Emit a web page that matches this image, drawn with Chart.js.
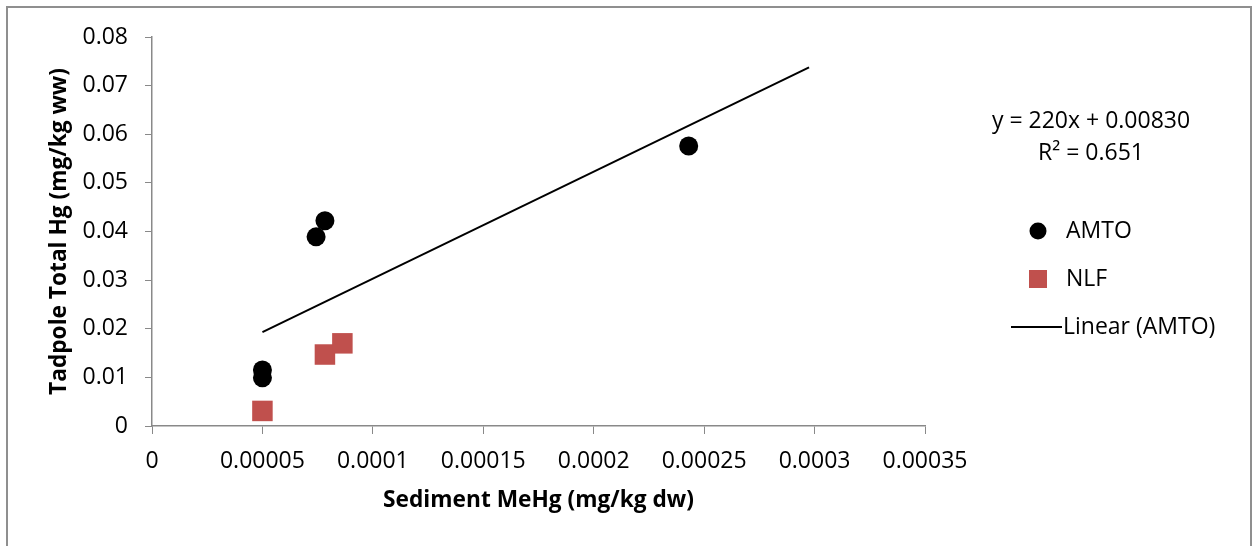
<!doctype html>
<html>

<head>
    <meta charset="utf-8" />
    <title>Tadpole Total Hg vs Sediment MeHg</title>

    <style>
        html,
        body {
            margin: 0px;
            padding: 0px;
            background-color: #ffffff;
            overflow: hidden;
        }

        .wrap {
            position: relative;
            width: 1252px;
            height: 546px;
        }

        .frame {
            position: absolute;
            left: 6px;
            top: 6px;
            width: 1242px;
            height: 600px;
            border: 2px solid #8f8f8f;
            pointer-events: none;
        }
    </style>
</head>

<body>

    <div class="wrap">
        <canvas id="chart_hg" width="1252" height="546"></canvas>
        <div class="frame"></div>
    </div>

    <script src="https://cdn.jsdelivr.net/npm/chart.js@4.4.1/dist/chart.umd.min.js"></script>

    <script>
        // sediment MeHg (x) and tadpole total Hg (y) per site
        const amtoX = [0.00005, 0.00005, 0.0000743, 0.0000783, 0.000243];
        const amtoY = [0.0115, 0.0099, 0.0389, 0.0422, 0.0576];
        const nlfX = [0.00005, 0.0000783, 0.0000862];
        const nlfY = [0.0031, 0.0147, 0.0170];

        // linear fit for AMTO, as printed on the chart
        const fitSlope = 220;
        const fitIntercept = 0.00830;
        const fitR2 = 0.651;
        const fitRange = [0.00005, 0.0002975];

        const xTickLabels = ['0', '0.00005', '0.0001', '0.00015', '0.0002', '0.00025', '0.0003', '0.00035'];
        const yTickLabels = ['0', '0.01', '0.02', '0.03', '0.04', '0.05', '0.06', '0.07', '0.08'];

        const FONT = 'Open Sans';
        const AXIS_GREY = '#898989';
        const NLF_RED = '#c0504d';

        function pairs(xs, ys) {
            return xs.map((x, i) => ({ x: x, y: ys[i] }));
        }

        const fitPoints = fitRange.map(x => ({ x: x, y: fitSlope * x + fitIntercept }));

        // legend + equation drawn off to the right of the plot
        const sideLegend = {
            id: 'sideLegend',
            afterDraw(chart) {
                const ctx = chart.ctx;
                ctx.save();
                ctx.fillStyle = '#000';
                ctx.font = '23px "' + FONT + '"';
                ctx.textBaseline = 'middle';

                ctx.textAlign = 'center';
                ctx.fillText('y = ' + fitSlope + 'x + ' + fitIntercept.toFixed(5), 1091, 121);
                ctx.fillText('R\u00b2 = ' + fitR2.toFixed(3), 1091, 153);

                ctx.textAlign = 'left';
                const ds = chart.data.datasets;

                // AMTO
                ctx.beginPath();
                ctx.arc(1038, 231, 8.5, 0, Math.PI * 2);
                ctx.fillStyle = ds[0].backgroundColor;
                ctx.fill();
                ctx.fillStyle = '#000';
                ctx.fillText(ds[0].label, 1066, 231);

                // NLF
                ctx.fillStyle = ds[1].backgroundColor;
                ctx.fillRect(1029, 270, 18, 18);
                ctx.fillStyle = '#000';
                ctx.fillText(ds[1].label, 1066, 279);

                // trendline
                ctx.beginPath();
                ctx.moveTo(1011, 327);
                ctx.lineTo(1062, 327);
                ctx.strokeStyle = ds[2].borderColor;
                ctx.lineWidth = 2;
                ctx.stroke();
                ctx.fillText(ds[2].label, 1063, 327);

                ctx.restore();
            }
        };

        const ctx_hg = document.getElementById('chart_hg').getContext('2d');
        const chart_hg = new Chart(ctx_hg, {
            type: 'scatter',
            data: {
                datasets: [
                    {
                        label: 'AMTO',
                        data: pairs(amtoX, amtoY),
                        pointStyle: 'circle',
                        pointRadius: 9.5,
                        backgroundColor: '#000000',
                        borderColor: '#000000',
                        borderWidth: 0,
                        order: 2
                    },
                    {
                        label: 'NLF',
                        data: pairs(nlfX, nlfY),
                        pointStyle: 'rect',
                        pointRadius: 14.5,
                        backgroundColor: NLF_RED,
                        borderColor: NLF_RED,
                        borderWidth: 0,
                        order: 3
                    },
                    {
                        label: 'Linear (AMTO)',
                        type: 'line',
                        data: fitPoints,
                        borderColor: '#000000',
                        borderWidth: 2,
                        pointRadius: 0,
                        fill: false,
                        order: 1
                    }
                ]
            },
            options: {
                animation: false,
                responsive: false,
                devicePixelRatio: 1,
                layout: {
                    padding: { top: 37, right: 327, bottom: 0, left: 0 }
                },
                plugins: {
                    legend: { display: false },
                    tooltip: { enabled: false }
                },
                scales: {
                    x: {
                        type: 'linear',
                        min: 0,
                        max: 0.00035,
                        afterFit: scale => { scale.height = 120; },
                        ticks: {
                            stepSize: 0.00005,
                            color: '#000',
                            padding: 14,
                            font: { family: FONT, size: 23 },
                            callback: (v, i) => xTickLabels[i]
                        },
                        grid: {
                            drawOnChartArea: false,
                            drawTicks: true,
                            tickLength: 8,
                            color: AXIS_GREY
                        },
                        border: { color: AXIS_GREY, width: 1.5 },
                        title: {
                            display: true,
                            text: 'Sediment MeHg (mg/kg dw)',
                            color: '#000',
                            padding: { top: 0, bottom: 32 },
                            font: { family: FONT, size: 22.7, weight: 'bold' }
                        }
                    },
                    y: {
                        type: 'linear',
                        min: 0,
                        max: 0.08,
                        afterFit: scale => { scale.width = 152; },
                        ticks: {
                            stepSize: 0.01,
                            color: '#000',
                            padding: 17,
                            font: { family: FONT, size: 23 },
                            callback: (v, i) => yTickLabels[i]
                        },
                        grid: {
                            drawOnChartArea: false,
                            drawTicks: true,
                            tickLength: 7,
                            color: AXIS_GREY
                        },
                        border: { color: AXIS_GREY, width: 1.5 },
                        title: {
                            display: true,
                            text: 'Tadpole Total Hg (mg/kg ww)',
                            color: '#000',
                            padding: { top: 46, bottom: 0 },
                            font: { family: FONT, size: 22.7, weight: 'bold' }
                        }
                    }
                }
            },
            plugins: [sideLegend]
        });
    </script>

</body>

</html>
